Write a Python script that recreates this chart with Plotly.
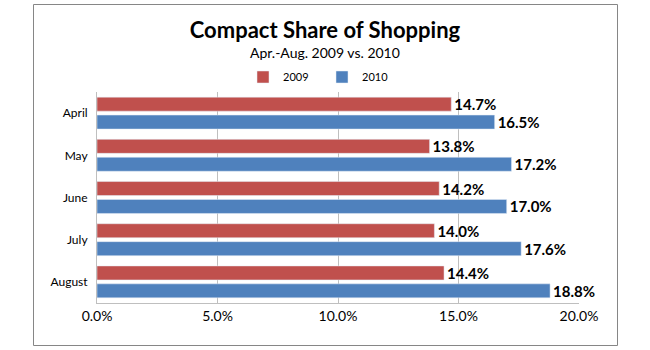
import plotly.graph_objects as go

months = ["April", "May", "June", "July", "August"]
share_2009 = [0.147, 0.138, 0.142, 0.140, 0.144]
share_2010 = [0.165, 0.172, 0.170, 0.176, 0.188]
x_ticks = [0.0, 0.05, 0.10, 0.15, 0.20]

W, H = 650, 350
L, R, T, B = 97, 579, 92, 303
FONT = "Lato, Open Sans, sans-serif"

def px_x(px):
    return (px - L) / (R - L)

def px_y(py):
    return (B - py) / (B - T)

fig = go.Figure()
for name, vals, col in [("2009", share_2009, "#C0504D"), ("2010", share_2010, "#4F81BD")]:
    fig.add_trace(go.Bar(
        y=months, x=vals, name=name, orientation="h",
        marker=dict(color=col),
        text=[f"{v*100:.1f}%" for v in vals], textposition="outside",
        constraintext="none",
        textfont=dict(family=FONT, size=15, color="black", weight="bold"),
        cliponaxis=False,
    ))

fig.update_layout(
    width=W, height=H,
    margin=dict(l=L, r=W - R, t=T, b=H - B),
    paper_bgcolor="white", plot_bgcolor="white",
    barmode="group", bargap=0.15, bargroupgap=0.22,
    font=dict(family=FONT, color="black"),
    title=dict(text="<b>Compact Share of Shopping</b>", x=0.5, xanchor="center",
               y=1 - 30 / H, yanchor="middle", yref="container",
               font=dict(family=FONT, size=22, color="black")),
    legend=dict(orientation="h", x=px_x(322), xanchor="center",
                y=px_y(77), yanchor="middle", font=dict(size=11, family=FONT),
                entrywidth=34, entrywidthmode="pixels", traceorder="normal"),
    xaxis=dict(range=[0, 0.2], tickvals=x_ticks, tickformat=".1%",
               showgrid=True, gridcolor="#BFBFBF", gridwidth=1,
               zeroline=False, showline=True, linecolor="#BFBFBF",
               tickfont=dict(size=14, family=FONT, color="black"),
               ticks="", ticklen=0, fixedrange=True),
    yaxis=dict(autorange="reversed", showgrid=False, showline=True,
               linecolor="#BFBFBF", ticks="",
               tickfont=dict(size=12, family=FONT, color="black"),
               ticklabelstandoff=6, fixedrange=True),
    annotations=[dict(text="Apr.-Aug. 2009 vs. 2010", xref="paper", yref="paper",
                      x=px_x(325), y=px_y(53), xanchor="center", yanchor="middle",
                      showarrow=False, font=dict(size=14, family=FONT, color="black"))],
    shapes=[dict(type="rect", xref="paper", yref="paper",
                 x0=px_x(33.5), x1=px_x(617.5), y0=px_y(345.5), y1=px_y(4.5),
                 line=dict(color="#868686", width=1), layer="below")],
)

fig.write_html("out.html")
